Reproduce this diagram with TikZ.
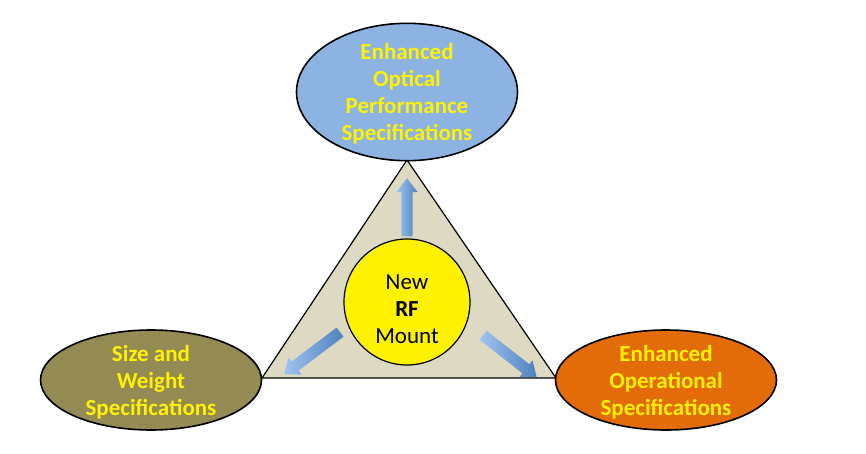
\documentclass[tikz,border=0pt]{standalone}
\usepackage{fontspec}
\setmainfont{Carlito}
\usetikzlibrary{shapes.geometric,shapes.arrows}
\definecolor{skyblue}{RGB}{141,179,226}
\definecolor{khaki}{RGB}{148,138,84}
\definecolor{orng}{RGB}{227,108,9}
\definecolor{sand}{RGB}{221,217,195}
\definecolor{arrowdark}{RGB}{79,129,189}
\definecolor{arrowlight}{RGB}{160,196,240}
\tikzstyle{spec}=[ellipse,draw,line width=1.6pt,inner sep=0pt,text depth=0pt,align=center,text=yellow,font=\bfseries\fontsize{23}{27}\selectfont]
\tikzstyle{core}=[circle,draw,line width=1.2pt,fill=yellow,minimum size=126pt,inner sep=0pt]
\tikzstyle{coretext}=[align=center,font=\fontsize{23}{27}\selectfont]
\tikzstyle{push}=[single arrow,draw=none,inner sep=5.5pt,single arrow head extend=5pt,single arrow tip angle=76,left color=arrowlight,right color=arrowdark]

\begin{document}
\begin{tikzpicture}[x=1pt,y=-1pt]
\useasboundingbox (0,0) rectangle (866,454);
\coordinate (t) at (407, 160);
\coordinate (l) at (262, 378);
\coordinate (r) at (556, 378);

\draw (t)--(l)--(r)--cycle [fill=sand, line width=1.2pt];

\draw (407, 92) node [spec, fill=skyblue, minimum width=221pt, minimum height=131pt] (optics) {Enhanced\\Optical\\Performance\\Specifications};
\draw (151, 380) node [spec, fill=khaki, minimum width=221pt, minimum height=100pt] (size) {Size and\\Weight\\Specifications};
\draw (666, 380) node [spec, fill=orng, minimum width=221pt, minimum height=100pt] (operation) {Enhanced\\Operational\\Specifications};

\draw (407, 302) node [core] (mount) {};
\draw (407, 309) node [coretext] (mountlabel) {New\\\textbf{RF}\\Mount};

\draw (407, 211) node [push, minimum height=58pt, rotate=90] (toOptics) {};
\draw (315, 351) node [push, minimum height=70pt, rotate=217] (toSize) {};
\draw (507, 354) node [push, minimum height=68pt, rotate=-38] (toOperation) {};

\end{tikzpicture}
\end{document}
